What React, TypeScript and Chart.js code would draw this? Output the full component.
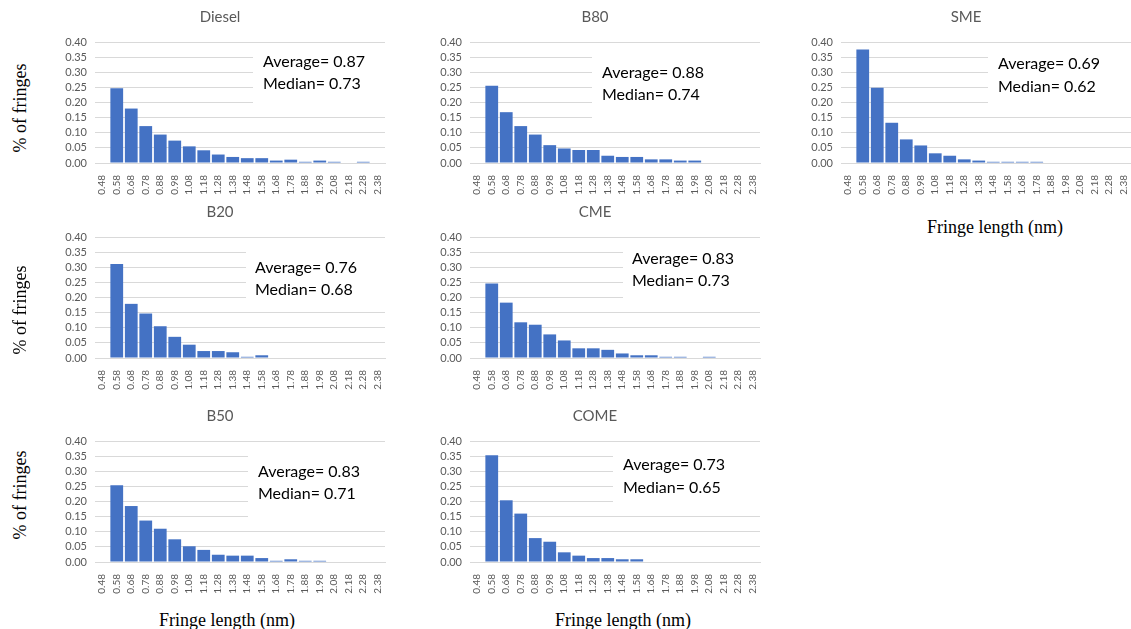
import React, { useEffect, useRef } from "react";
import { Chart, registerables } from "chart.js";

Chart.register(...registerables);

// Fringe-length bins (nm)
const binLabels = [
  "0.48", "0.58", "0.68", "0.78", "0.88", "0.98", "1.08", "1.18", "1.28", "1.38",
  "1.48", "1.58", "1.68", "1.78", "1.88", "1.98", "2.08", "2.18", "2.28", "2.38",
];

// Fraction of fringes per bin, one array per fuel
const dieselValues = [0, 0.247, 0.18, 0.122, 0.094, 0.074, 0.055, 0.042, 0.028, 0.02, 0.016, 0.016, 0.008, 0.011, 0.004, 0.008, 0.004, 0, 0.004, 0];
const b80Values = [0, 0.255, 0.168, 0.122, 0.094, 0.059, 0.048, 0.043, 0.043, 0.024, 0.02, 0.02, 0.012, 0.012, 0.008, 0.008, 0, 0, 0, 0];
const smeValues = [0, 0.375, 0.249, 0.133, 0.078, 0.058, 0.032, 0.024, 0.012, 0.008, 0.004, 0.004, 0.004, 0.004, 0, 0, 0, 0, 0, 0];
const b20Values = [0, 0.311, 0.179, 0.147, 0.105, 0.07, 0.044, 0.023, 0.023, 0.019, 0.004, 0.009, 0, 0, 0, 0, 0, 0, 0, 0];
const cmeValues = [0, 0.246, 0.183, 0.118, 0.11, 0.078, 0.058, 0.032, 0.032, 0.027, 0.015, 0.009, 0.009, 0.004, 0.004, 0, 0.004, 0, 0, 0];
const b50Values = [0, 0.254, 0.185, 0.137, 0.11, 0.075, 0.052, 0.04, 0.024, 0.021, 0.021, 0.013, 0.004, 0.009, 0.004, 0.004, 0, 0, 0, 0];
const comeValues = [0, 0.353, 0.204, 0.16, 0.079, 0.067, 0.032, 0.021, 0.013, 0.013, 0.009, 0.009, 0, 0, 0, 0, 0, 0, 0, 0];

// Summary statistics (nm)
const fuelNames = ["Diesel", "B80", "SME", "B20", "CME", "B50", "COME"];
const averages = ["0.87", "0.88", "0.69", "0.76", "0.83", "0.83", "0.73"];
const medians = ["0.73", "0.74", "0.62", "0.68", "0.73", "0.71", "0.65"];
const seriesList = [dieselValues, b80Values, smeValues, b20Values, cmeValues, b50Values, comeValues];

const BAR_COLOR = "#4472C4";
const GRID_COLOR = "#d9d9d9";
const TEXT_GREY = "#595959";
const SANS = "Lato, 'Open Sans', sans-serif";
const SERIF = "'Liberation Serif', 'DejaVu Serif', serif";

// Page placement of each panel: canvas box, right padding and the statistics box
type Layout = {
  left: number; top: number; width: number; height: number; padRight: number;
  box: [number, number, number, number]; textX: number; textY: [number, number];
};

const layouts: Layout[] = [
  { left: 55, top: 0, width: 344, height: 199, padRight: 14, box: [253, 50, 140, 56], textX: 263, textY: [62, 84] },
  { left: 430, top: 0, width: 342, height: 199, padRight: 12, box: [592, 52, 175, 68], textX: 602, textY: [73, 95] },
  { left: 801, top: 0, width: 344, height: 199, padRight: 14, box: [988, 50, 150, 58], textX: 998, textY: [64, 87] },
  { left: 55, top: 195, width: 344, height: 199, padRight: 14, box: [246, 246, 150, 60], textX: 255, textY: [268, 290] },
  { left: 430, top: 195, width: 342, height: 199, padRight: 12, box: [623, 242, 145, 63], textX: 632, textY: [259, 281] },
  { left: 55, top: 399, width: 344, height: 199, padRight: 14, box: [248, 451, 145, 70], textX: 258, textY: [472, 494] },
  { left: 430, top: 399, width: 342, height: 199, padRight: 12, box: [613, 449, 155, 58], textX: 623, textY: [465, 488] },
];

// Draws the white statistics box with its two lines over the grid
const statNotePlugin = {
  id: "statNote",
  beforeDatasetsDraw(chart: any, _args: any, opts: any) {
    const { ctx } = chart;
    ctx.save();
    ctx.fillStyle = "#ffffff";
    ctx.fillRect(opts.x, opts.y, opts.w, opts.h);
    ctx.fillStyle = "#000000";
    ctx.font = `16px ${SANS}`;
    ctx.textBaseline = "middle";
    ctx.textAlign = "left";
    ctx.fillText(opts.line1, opts.tx, opts.ty1);
    ctx.fillText(opts.line2, opts.tx, opts.ty2);
    ctx.restore();
  },
};

function Histogram({ index }: { index: number }) {
  const ref = useRef<HTMLCanvasElement | null>(null);
  const lay = layouts[index];

  useEffect(() => {
    if (!ref.current) return;
    const chart = new Chart(ref.current, {
      type: "bar",
      data: {
        labels: binLabels,
        datasets: [
          {
            data: seriesList[index],
            backgroundColor: BAR_COLOR,
            borderWidth: 0,
            barPercentage: 0.88,
            categoryPercentage: 1,
          },
        ],
      },
      plugins: [statNotePlugin],
      options: {
        animation: false,
        responsive: false,
        devicePixelRatio: 1,
        layout: { padding: { left: 0, right: lay.padRight, top: 0, bottom: 0 } },
        plugins: {
          legend: { display: false },
          tooltip: { enabled: false },
          title: {
            display: true,
            text: fuelNames[index],
            color: TEXT_GREY,
            font: { family: SANS, size: 15, weight: "normal" },
            padding: { top: 8, bottom: 16 },
          },
          statNote: {
            x: lay.box[0] - lay.left,
            y: lay.box[1] - lay.top,
            w: lay.box[2],
            h: lay.box[3],
            tx: lay.textX - lay.left,
            ty1: lay.textY[0] - lay.top,
            ty2: lay.textY[1] - lay.top,
            line1: `Average= ${averages[index]}`,
            line2: `Median= ${medians[index]}`,
          },
        } as any,
        scales: {
          x: {
            grid: { display: false },
            border: { display: true, color: GRID_COLOR },
            ticks: {
              autoSkip: false,
              minRotation: 90,
              maxRotation: 90,
              color: TEXT_GREY,
              font: { family: SANS, size: 10 },
              padding: 4,
            },
            afterFit: (s: any) => {
              s.height = 36;
            },
          },
          y: {
            min: 0,
            max: 0.4,
            grid: { color: GRID_COLOR, drawTicks: false },
            border: { display: false },
            ticks: {
              count: 9,
              autoSkip: false,
              color: TEXT_GREY,
              font: { family: SANS, size: 11 },
              padding: 8,
              callback: (v: any) => Number(v).toFixed(2),
            },
            afterFit: (s: any) => {
              s.width = 40;
            },
          },
        },
      },
    });
    return () => chart.destroy();
  }, [index]);

  return (
    <canvas
      ref={ref}
      width={lay.width}
      height={lay.height}
      style={{ position: "absolute", left: lay.left, top: lay.top, width: lay.width, height: lay.height }}
    />
  );
}

const yTitleCenters = [108, 310, 495];
const xTitleCenters: [number, number][] = [
  [995, 227],
  [227, 620],
  [623, 620],
];

export default function App() {
  return (
    <div
      style={{
        position: "absolute",
        left: 0,
        top: 0,
        width: 1131,
        height: 629,
        overflow: "hidden",
        background: "#ffffff",
      }}
    >
      {fuelNames.map((_, i) => (
        <Histogram key={i} index={i} />
      ))}
      {yTitleCenters.map((cy, i) => (
        <div
          key={`y${i}`}
          style={{
            position: "absolute",
            left: 20,
            top: cy,
            transform: "translate(-50%, -50%) rotate(-90deg)",
            fontFamily: SERIF,
            fontSize: 18,
            whiteSpace: "nowrap",
            color: "#000",
          }}
        >
          % of fringes
        </div>
      ))}
      {xTitleCenters.map(([cx, cy], i) => (
        <div
          key={`x${i}`}
          style={{
            position: "absolute",
            left: cx,
            top: cy,
            transform: "translate(-50%, -50%)",
            fontFamily: SERIF,
            fontSize: 18,
            whiteSpace: "nowrap",
            color: "#000",
          }}
        >
          Fringe length (nm)
        </div>
      ))}
    </div>
  );
}
